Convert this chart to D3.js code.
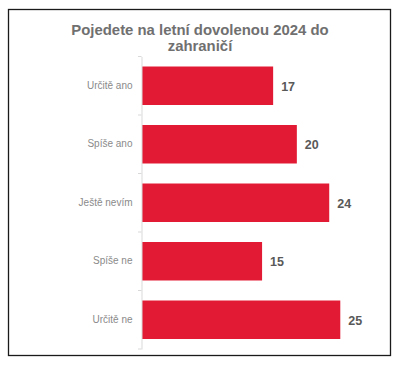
<!DOCTYPE html>
<html><head><meta charset="utf-8">
<script src="https://cdn.jsdelivr.net/npm/d3@7"></script>
<style>
html,body{margin:0;padding:0;background:#fff;}
svg{display:block;font-family:"Liberation Sans",Arial,sans-serif;}
</style></head>
<body><svg id="c" width="401" height="367"></svg>
<script>
const titleLines = ["Pojedete na letní dovolenou 2024 do", "zahraničí"];
const categories = ["Určitě ano", "Spíše ano", "Ještě nevím", "Spíše ne", "Určitě ne"];
const values = [16.6, 19.6, 23.7, 15.2, 25.1];
const labels = ["17", "20", "24", "15", "25"];

const svg = d3.select("#c");
svg.append("rect").attr("x", 8.5).attr("y", 9.5).attr("width", 382).attr("height", 346)
  .attr("fill", "#fff").attr("stroke", "#1a1a1a").attr("stroke-width", 1.3);

const x = d3.scaleLinear().domain([0, 30]).range([142, 379]);
const y = d3.scaleBand().domain(categories).range([56.5, 349]).paddingInner(0.342).paddingOuter(0.171);

svg.append("text").attr("x", 200).attr("text-anchor", "middle")
  .attr("font-size", 14.9).attr("font-weight", "bold").attr("fill", "#707070")
  .selectAll("tspan").data(titleLines).join("tspan")
  .attr("x", 200).attr("y", (d, i) => 34.5 + i * 16).text(d => d);

svg.selectAll("rect.bar").data(values).join("rect").attr("class", "bar")
  .attr("x", x(0)).attr("y", (d, i) => y(categories[i]))
  .attr("width", d => x(d) - x(0)).attr("height", y.bandwidth())
  .attr("fill", "#e31a33");

const ax = svg.append("g").attr("transform", `translate(${x(0) - 0.5},0)`)
  .call(d3.axisLeft(y).tickSize(0).tickPadding(9));
ax.select(".domain").attr("stroke", "#d9d9d9");
ax.selectAll("text").attr("font-size", 10).attr("fill", "#8a8a8a")
  .attr("font-family", "Liberation Sans, Arial, sans-serif");
// boundary ticks between categories
const bounds = d3.range(categories.length + 1).map(i => 56.5 + i * y.step());
svg.selectAll("line.tk").data(bounds).join("line").attr("class", "tk")
  .attr("x1", x(0) - 4).attr("x2", x(0) - 0.5).attr("y1", d => d).attr("y2", d => d)
  .attr("stroke", "#d9d9d9");

svg.selectAll("text.val").data(values).join("text").attr("class", "val")
  .attr("x", d => x(d) + 8).attr("y", (d, i) => y(categories[i]) + y.bandwidth() / 2)
  .attr("dy", "0.38em").attr("font-size", 12.5).attr("font-weight", "bold").attr("fill", "#595959")
  .text((d, i) => labels[i]);
</script></body></html>
